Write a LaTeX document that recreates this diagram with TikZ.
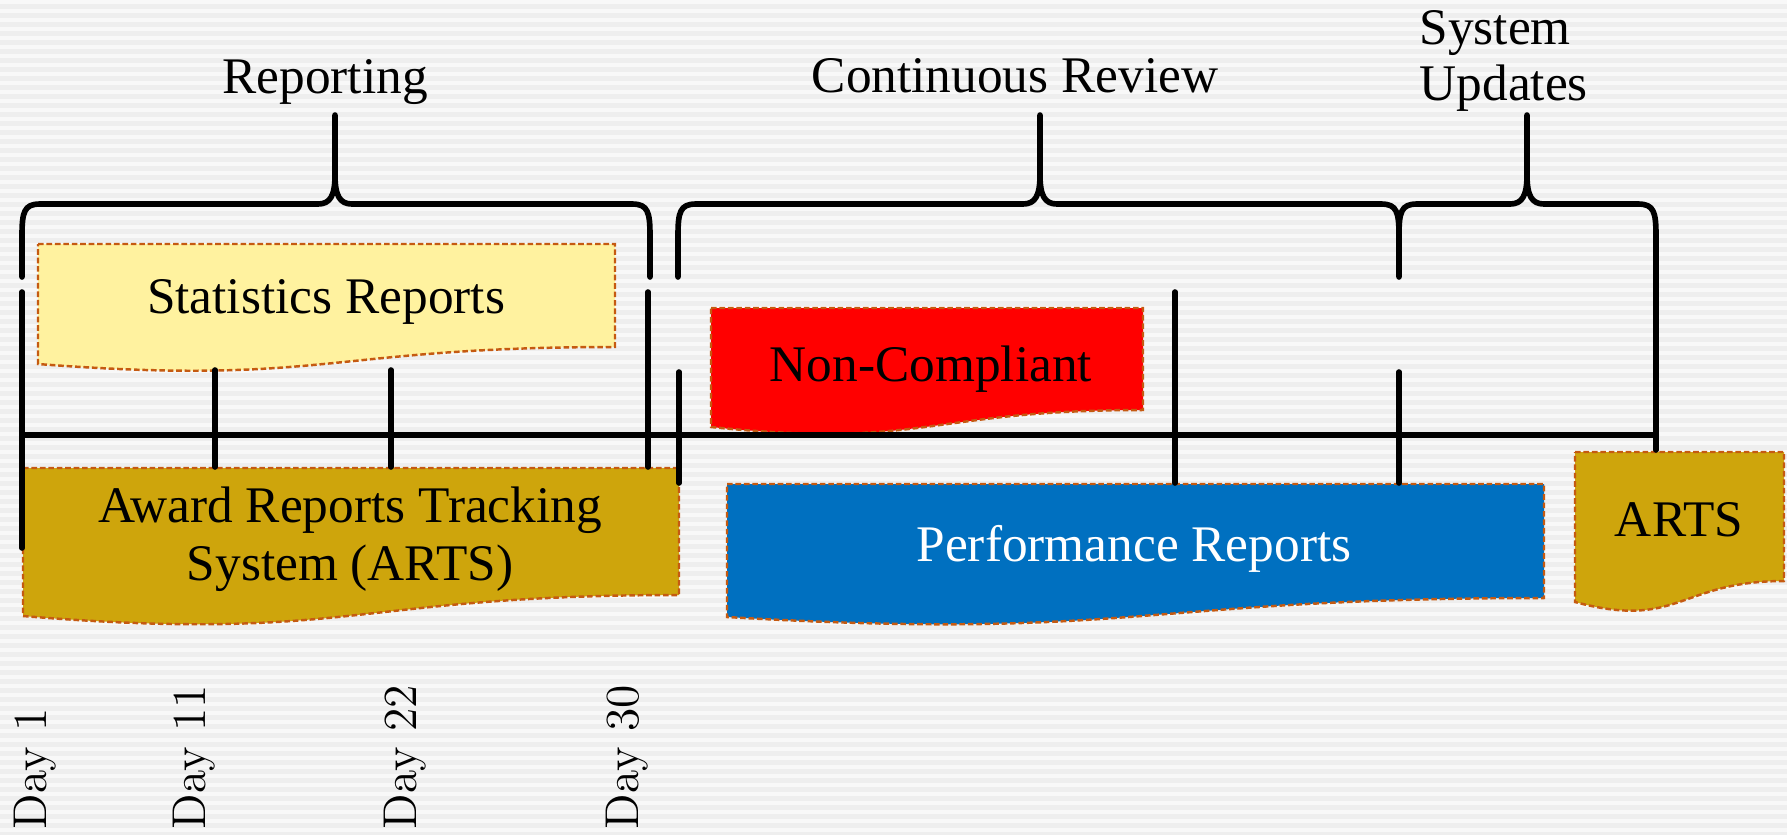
\documentclass[tikz,border=0pt]{standalone}
\usepackage{fontspec}
\newfontfamily\labelfont{Liberation Serif}
\definecolor{paper}{HTML}{EEEEEE}
\definecolor{stripe}{HTML}{F8F8F8}
\definecolor{docedge}{HTML}{C55A11}
\definecolor{statsfill}{HTML}{FFF29F}
\definecolor{artsfill}{HTML}{CEA50C}
\definecolor{perffill}{HTML}{0070C0}

\tikzset{brace/.style={line width=1.6pt,line cap=round,line join=round},
timeline/.style={line width=1.7pt,line cap=round},
day tick/.style={line width=1.6pt,line cap=round},
document/.style={draw=docedge,line width=0.7pt,dash pattern=on 1.6pt off 0.8pt},
box label/.style={font=\labelfont\fontsize{14.6}{16.5}\selectfont,inner sep=0pt,align=center},
phase label/.style={font=\labelfont\fontsize{14.6}{16}\selectfont,inner sep=0pt},
day label/.style={font=\fontsize{13.5}{16}\selectfont\addfontfeature{FakeBold=1.6},rotate=90,anchor=base west,inner sep=0pt}}

\begin{document}
\begin{tikzpicture}[x=0.01cm,y=-0.01cm]
% the unit is one pixel of the 1787x835 picture, y runs downwards

%% background
\useasboundingbox (0,0) rectangle (1787,835);
\fill[paper] (0,0) rectangle (1787,835);
\foreach \s in {0,9,...,828}
  \fill[stripe] (0,\s) rectangle (1787,\s+3.5);

%% documents (flow chart document shape, wavy bottom)
\filldraw[document,fill=statsfill] (38,244) -- (615,244) -- (615,347)
  .. controls (326,347) and (326,386) .. (38,364) -- cycle;
\filldraw[document,fill=red] (711,308) -- (1143,308) -- (1143,410)
  .. controls (927,410) and (927,449) .. (711,427) -- cycle;
\filldraw[document,fill=artsfill] (23,468) -- (679,468) -- (679,595)
  .. controls (351,595) and (351,643) .. (23,616) -- cycle;
\filldraw[document,fill=perffill] (727,484) -- (1544,484) -- (1544,598)
  .. controls (1135,598) and (1135,641) .. (727,617) -- cycle;
\filldraw[document,fill=artsfill] (1575,452) -- (1784,452) -- (1784,581)
  .. controls (1679,581) and (1679,630) .. (1575,602) -- cycle;

%% Coordinates of the time line and its ticks.
\coordinate (start) at (22,435);
\coordinate (end) at (1656,435);
\coordinate (t1) at (22,292);
\coordinate (t1p) at (22,548);
\coordinate (t2) at (215,370);
\coordinate (t2p) at (215,467);
\coordinate (t3) at (391,370);
\coordinate (t3p) at (391,467);
\coordinate (t4) at (648,292);
\coordinate (t4p) at (648,467);
\coordinate (t5) at (679,372);
\coordinate (t5p) at (679,483);
\coordinate (t6) at (1175,292);
\coordinate (t6p) at (1175,483);
\coordinate (t7) at (1399,372);
\coordinate (t7p) at (1399,483);
\coordinate (t8) at (1656,276);
\coordinate (t8p) at (1656,450);

%% time line
\draw[timeline] (start) -- (end);

%% ticks
\draw[day tick] (t1) -- (t1p);
\draw[day tick] (t2) -- (t2p);
\draw[day tick] (t3) -- (t3p);
\draw[day tick] (t4) -- (t4p);
\draw[day tick] (t5) -- (t5p);
\draw[day tick] (t6) -- (t6p);
\draw[day tick] (t7) -- (t7p);
\draw[day tick] (t8) -- (t8p);

%% braces
\draw[brace] (22,277) -- (22,236) .. controls (22,212) and (24,204) .. (40,204)
  -- (318,204) .. controls (330,204) and (335,196) .. (335,175) -- (335,115);
\draw[brace] (650,277) -- (650,236) .. controls (650,212) and (648,204) .. (632,204)
  -- (352,204) .. controls (340,204) and (335,196) .. (335,175);
\draw[brace] (678,277) -- (678,236) .. controls (678,212) and (680,204) .. (696,204)
  -- (1023,204) .. controls (1035,204) and (1040,196) .. (1040,175) -- (1040,115);
\draw[brace] (1399,277) -- (1399,236) .. controls (1399,212) and (1397,204) .. (1381,204)
  -- (1057,204) .. controls (1045,204) and (1040,196) .. (1040,175);
\draw[brace] (1399,236) .. controls (1399,212) and (1401,204) .. (1417,204)
  -- (1510,204) .. controls (1522,204) and (1527,196) .. (1527,175) -- (1527,115);
\draw[brace] (1656,277) -- (1656,236) .. controls (1656,212) and (1654,204) .. (1638,204)
  -- (1544,204) .. controls (1532,204) and (1527,196) .. (1527,175);

%% phase labels
\node[phase label,anchor=base] (rep) at (325,93) {Reporting};
\node[phase label,anchor=base] (review) at (1015,92) {Continuous Review};
\node[phase label,anchor=west,align=left] (updates) at (1419,61) {System\\Updates};

%% document labels
\node[box label,anchor=base] (stats) at (326,313) {Statistics Reports};
\node[box label,anchor=base] (noncomp) at (931,381) {Non-Compliant};
\node[box label] (arts) at (350,539) {Award Reports Tracking\\System (ARTS)};
\node[box label,anchor=base,text=white] (perf) at (1134,561) {Performance Reports};
\node[box label,anchor=base] (arts2) at (1679,536) {ARTS};

%% day labels
\node[day label] (day1) at (47,830) {Day 1};
\node[day label] (day11) at (205,830) {Day 11};
\node[day label] (day22) at (416,830) {Day 22};
\node[day label] (day30) at (638,830) {Day 30};

\end{tikzpicture}
\end{document}
